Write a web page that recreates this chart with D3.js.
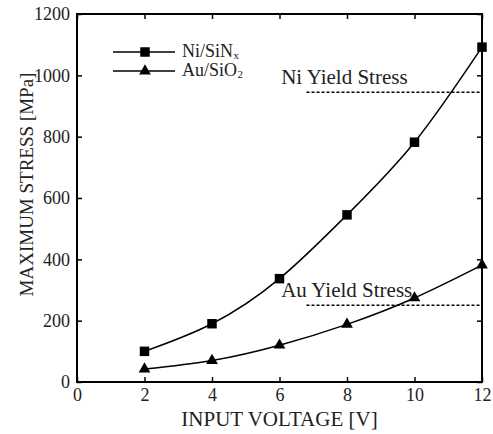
<!DOCTYPE html>
<html>
<head>
<meta charset="utf-8">
<script src="https://cdn.jsdelivr.net/npm/d3@7"></script>
<style>
  body { margin: 0; background: #fff; }
  svg text { font-family: "Liberation Serif", "Times New Roman", serif; fill: #222; }
</style>
</head>
<body>
<svg id="chart" width="493" height="434"></svg>
<script>
// Data
const voltage = [2, 4, 6, 8, 10, 12];
const niStress = [100, 190, 337, 545, 782, 1092];
const auStress = [42, 70, 120, 188, 274, 381];
const xTicks = [0, 2, 4, 6, 8, 10, 12];
const yTicks = [0, 200, 400, 600, 800, 1000, 1200];
const niYield = 945;
const auYield = 250;
const yieldStart = 6.8;

// Chart dimensions
const margin = { top: 14, right: 11, bottom: 52, left: 77 };
const width = 493 - margin.left - margin.right;
const height = 434 - margin.top - margin.bottom;

const xScale = d3.scaleLinear().domain([0, 12]).range([0, width]);
const yScale = d3.scaleLinear().domain([0, 1200]).range([height, 0]);

const svg = d3.select('#chart')
  .append('g')
  .attr('transform', `translate(${margin.left},${margin.top})`);

// Axes with inward ticks on all four sides
const axisStyle = g => {
  g.attr('font-family', null).attr('font-size', null);
  g.select('.domain').remove();
  g.selectAll('.tick line').attr('stroke', '#000').attr('stroke-width', 1.5);
  g.selectAll('.tick text').style('font-size', '18px').attr('fill', '#222');
};

svg.append('g')
  .attr('transform', `translate(0,${height})`)
  .call(d3.axisBottom(xScale).tickValues(xTicks).tickFormat(d3.format('d'))
    .tickSizeInner(-5).tickSizeOuter(0).tickPadding(6))
  .call(axisStyle);

svg.append('g')
  .call(d3.axisLeft(yScale).tickValues(yTicks).tickFormat(d3.format('d'))
    .tickSizeInner(-5).tickSizeOuter(0).tickPadding(7))
  .call(axisStyle);

svg.append('g')
  .call(d3.axisTop(xScale).tickValues(xTicks).tickSizeInner(-5).tickSizeOuter(0).tickFormat(''))
  .call(axisStyle);

svg.append('g')
  .attr('transform', `translate(${width},0)`)
  .call(d3.axisRight(yScale).tickValues(yTicks).tickSizeInner(-5).tickSizeOuter(0).tickFormat(''))
  .call(axisStyle);

// Frame
svg.append('rect')
  .attr('x', 0).attr('y', 0)
  .attr('width', width).attr('height', height)
  .attr('fill', 'none')
  .attr('stroke', '#000')
  .attr('stroke-width', 2);

// Curves
const line = d3.line()
  .x(d => xScale(d[0]))
  .y(d => yScale(d[1]))
  .curve(d3.curveNatural);

const niData = voltage.map((v, i) => [v, niStress[i]]);
const auData = voltage.map((v, i) => [v, auStress[i]]);

[niData, auData].forEach(data => {
  svg.append('path')
    .datum(data)
    .attr('d', line)
    .attr('fill', 'none')
    .attr('stroke', '#000')
    .attr('stroke-width', 1.5);
});

const square = d3.symbol().type(d3.symbolSquare).size(90);
const triangle = d3.symbol().type(d3.symbolTriangle).size(60);

svg.selectAll('.ni')
  .data(niData)
  .enter().append('path')
  .attr('class', 'ni')
  .attr('d', square)
  .attr('transform', d => `translate(${xScale(d[0])},${yScale(d[1])})`)
  .attr('fill', '#000');

svg.selectAll('.au')
  .data(auData)
  .enter().append('path')
  .attr('class', 'au')
  .attr('d', triangle)
  .attr('transform', d => `translate(${xScale(d[0])},${yScale(d[1])})`)
  .attr('fill', '#000');

// Yield stress lines
[[niYield, 'Ni Yield Stress'], [auYield, 'Au Yield Stress']].forEach(([val, label]) => {
  svg.append('line')
    .attr('x1', xScale(yieldStart)).attr('x2', xScale(12))
    .attr('y1', yScale(val)).attr('y2', yScale(val))
    .attr('stroke', '#000')
    .attr('stroke-width', 1.5)
    .attr('stroke-dasharray', '3,2');
  svg.append('text')
    .attr('x', xScale(6.05))
    .attr('y', yScale(val) - 8)
    .style('font-size', '21px')
    .text(label);
});

// Legend
const legend = [
  { sym: square, name: 'Ni/SiN', sub: 'x' },
  { sym: triangle, name: 'Au/SiO', sub: '2' }
];
legend.forEach((d, i) => {
  const y = 38 + i * 19;
  svg.append('line')
    .attr('x1', 36).attr('x2', 98)
    .attr('y1', y).attr('y2', y)
    .attr('stroke', '#000').attr('stroke-width', 1.5);
  svg.append('path')
    .attr('d', d.sym)
    .attr('transform', `translate(68,${y})`)
    .attr('fill', '#000');
  const t = svg.append('text')
    .attr('x', 105).attr('y', y + 5)
    .style('font-size', '18px')
    .text(d.name);
  const w = t.node().getComputedTextLength();
  svg.append('text')
    .attr('x', 105 + w + 0.5).attr('y', y + 7)
    .style('font-size', '11px')
    .text(d.sub);
});

// Axis titles
svg.append('text')
  .attr('x', width / 2)
  .attr('y', height + 44)
  .attr('text-anchor', 'middle')
  .style('font-size', '21px')
  .text('INPUT VOLTAGE [V]');

svg.append('text')
  .attr('transform', `translate(${-44},${170.5}) rotate(-90)`)
  .attr('text-anchor', 'middle')
  .style('font-size', '19px')
  .text('MAXIMUM STRESS [MPa]');
</script>
</body>
</html>
